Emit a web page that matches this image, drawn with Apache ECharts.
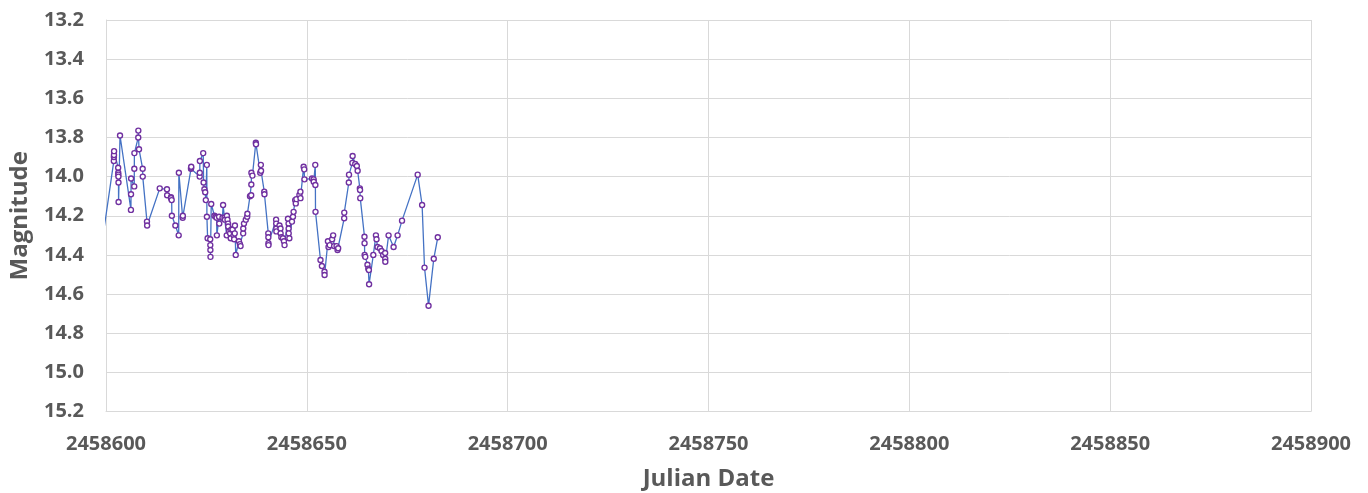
<!DOCTYPE html>
<html>
<head>
<meta charset="utf-8">
<script src="https://cdn.jsdelivr.net/npm/echarts@6/dist/echarts.min.js"></script>
<style>
html,body{margin:0;padding:0;background:#fff;}
#chart{width:1368px;height:493px;}
</style>
</head>
<body>
<div id="chart"></div>
<script>
const julianDate = [
2458599.00,2458601.95,2458601.97,2458601.99,2458602.01,2458603.03,2458603.05,2458603.07,2458603.09,2458603.11,
2458603.13,2458603.49,2458606.21,2458606.23,2458606.25,2458607.03,2458607.05,2458607.07,2458608.03,2458608.05,
2458608.22,2458609.13,2458609.15,2458610.20,2458610.24,2458613.38,2458615.18,2458615.22,2458616.18,2458616.20,
2458616.35,2458616.40,2458617.27,2458618.10,2458618.14,2458619.09,2458619.13,2458621.16,2458621.18,2458621.22,
2458623.33,2458623.35,2458623.37,2458624.20,2458624.30,2458624.50,2458624.70,2458624.85,2458625.10,2458625.12,
2458625.30,2458625.95,2458625.97,2458625.99,2458626.01,2458626.20,2458627.00,2458627.30,2458627.55,2458627.60,
2458628.15,2458628.20,2458629.00,2458629.15,2458629.50,2458629.60,2458630.05,2458630.10,2458630.25,2458630.40,
2458630.42,2458630.65,2458630.90,2458631.05,2458631.20,2458631.50,2458631.75,2458631.90,2458632.05,2458632.10,
2458632.30,2458633.10,2458633.35,2458633.50,2458634.15,2458634.17,2458634.35,2458634.80,2458635.15,2458635.20,
2458635.85,2458636.15,2458636.18,2458636.20,2458636.45,2458637.30,2458637.35,2458638.40,2458638.55,2458638.60,
2458639.40,2458639.45,2458640.40,2458640.42,2458640.44,2458640.46,2458642.35,2458642.37,2458642.39,2458642.41,
2458643.20,2458643.45,2458643.47,2458643.65,2458644.05,2458644.30,2458644.45,2458645.30,2458645.45,2458645.47,
2458645.49,2458645.65,2458646.30,2458646.55,2458646.70,2458647.10,2458647.25,2458647.40,2458648.15,2458648.40,
2458648.42,2458649.20,2458649.35,2458649.40,2458651.30,2458651.70,2458651.72,2458652.10,2458652.13,2458652.16,
2458653.40,2458653.75,2458654.40,2458654.42,2458655.25,2458655.40,2458655.70,2458656.30,2458656.55,2458656.80,
2458657.40,2458657.65,2458657.80,2458659.30,2458659.32,2458660.45,2458660.50,2458661.35,2458661.40,2458662.05,
2458662.45,2458662.65,2458663.20,2458663.25,2458663.30,2458664.35,2458664.37,2458664.39,2458664.55,2458665.10,
2458665.30,2458665.45,2458665.50,2458666.55,2458667.20,2458667.35,2458667.60,2458668.20,2458668.60,2458669.00,
2458669.50,2458669.52,2458669.54,2458670.35,2458671.60,2458672.60,2458673.70,2458677.60,2458678.70,2458679.30,
2458680.30,2458681.60,2458682.60
];
const magnitude = [
14.34,13.92,13.90,13.89,13.87,13.955,13.98,13.99,14.00,14.03,
14.13,13.79,14.17,14.09,14.01,14.05,13.96,13.88,13.80,13.765,
13.86,13.96,14.00,14.23,14.25,14.06,14.065,14.095,14.105,14.11,
14.12,14.20,14.25,14.30,13.98,14.21,14.20,13.96,13.955,13.95,
14.00,13.98,13.92,13.88,14.03,14.065,14.08,14.12,13.94,14.205,
14.315,14.32,14.35,14.375,14.41,14.14,14.20,14.205,14.21,14.30,
14.205,14.24,14.21,14.145,14.21,14.22,14.30,14.20,14.22,14.24,
14.255,14.28,14.29,14.315,14.27,14.27,14.30,14.32,14.29,14.25,
14.40,14.33,14.345,14.355,14.29,14.265,14.24,14.22,14.205,14.19,
14.10,14.095,14.04,13.98,13.995,13.827,13.835,13.98,13.94,13.97,
14.077,14.09,14.29,14.31,14.34,14.35,14.22,14.24,14.265,14.28,
14.25,14.265,14.29,14.31,14.315,14.33,14.35,14.215,14.24,14.265,
14.29,14.315,14.23,14.205,14.18,14.12,14.137,14.115,14.094,14.077,
14.11,13.95,13.963,14.014,14.01,14.014,14.026,13.94,14.043,14.18,
14.426,14.457,14.486,14.503,14.33,14.36,14.35,14.32,14.30,14.355,
14.355,14.375,14.366,14.213,14.184,14.03,13.99,13.93,13.895,13.936,
13.946,13.97,14.06,14.068,14.11,14.307,14.34,14.40,14.41,14.45,
14.47,14.477,14.55,14.40,14.30,14.32,14.36,14.366,14.38,14.40,
14.39,14.42,14.435,14.30,14.36,14.30,14.225,13.99,14.145,14.465,
14.66,14.42,14.31
];
const xTitle = 'Julian Date';
const yTitle = 'Magnitude';

const points = julianDate.map((d, i) => [d, magnitude[i]]);
const chart = echarts.init(document.getElementById('chart'), null, {renderer: 'canvas'});
const labelFont = {fontFamily: 'Open Sans', fontWeight: 'bold', fontSize: 20, color: '#595959'};
chart.setOption({
  animation: false,
  grid: {left: 106, right: 57, top: 20, bottom: 81.5, containLabel: false, outerBoundsMode: 'none'},
  xAxis: {
    type: 'value', min: 2458600, max: 2458900, interval: 50,
    name: xTitle, nameLocation: 'middle', nameGap: 56,
    nameTextStyle: {fontFamily: 'Open Sans', fontWeight: 'bold', fontSize: 24, color: '#595959'},
    axisLine: {show: true, lineStyle: {color: '#d9d9d9', width: 1}},
    axisTick: {show: false},
    splitLine: {show: true, lineStyle: {color: '#d9d9d9', width: 1}},
    axisLabel: Object.assign({margin: 23, formatter: v => String(v)}, labelFont)
  },
  yAxis: {
    type: 'value', inverse: true, min: 13.2, max: 15.2, interval: 0.2,
    name: yTitle, nameLocation: 'middle', nameGap: 74, nameRotate: 90,
    nameTextStyle: {fontFamily: 'Open Sans', fontWeight: 'bold', fontSize: 24, color: '#595959'},
    axisLine: {show: true, lineStyle: {color: '#d9d9d9', width: 1}},
    axisTick: {show: false},
    splitLine: {show: true, lineStyle: {color: '#d9d9d9', width: 1}},
    axisLabel: Object.assign({margin: 22, formatter: v => v.toFixed(1)}, labelFont)
  },
  series: [{
    type: 'line',
    data: points,
    clip: true,
    symbol: 'circle',
    symbolSize: 5,
    showAllSymbol: true,
    lineStyle: {color: '#4472C4', width: 1.3},
    itemStyle: {color: '#ffffff', borderColor: '#7030A0', borderWidth: 1.4}
  }]
});
</script>
</body>
</html>
